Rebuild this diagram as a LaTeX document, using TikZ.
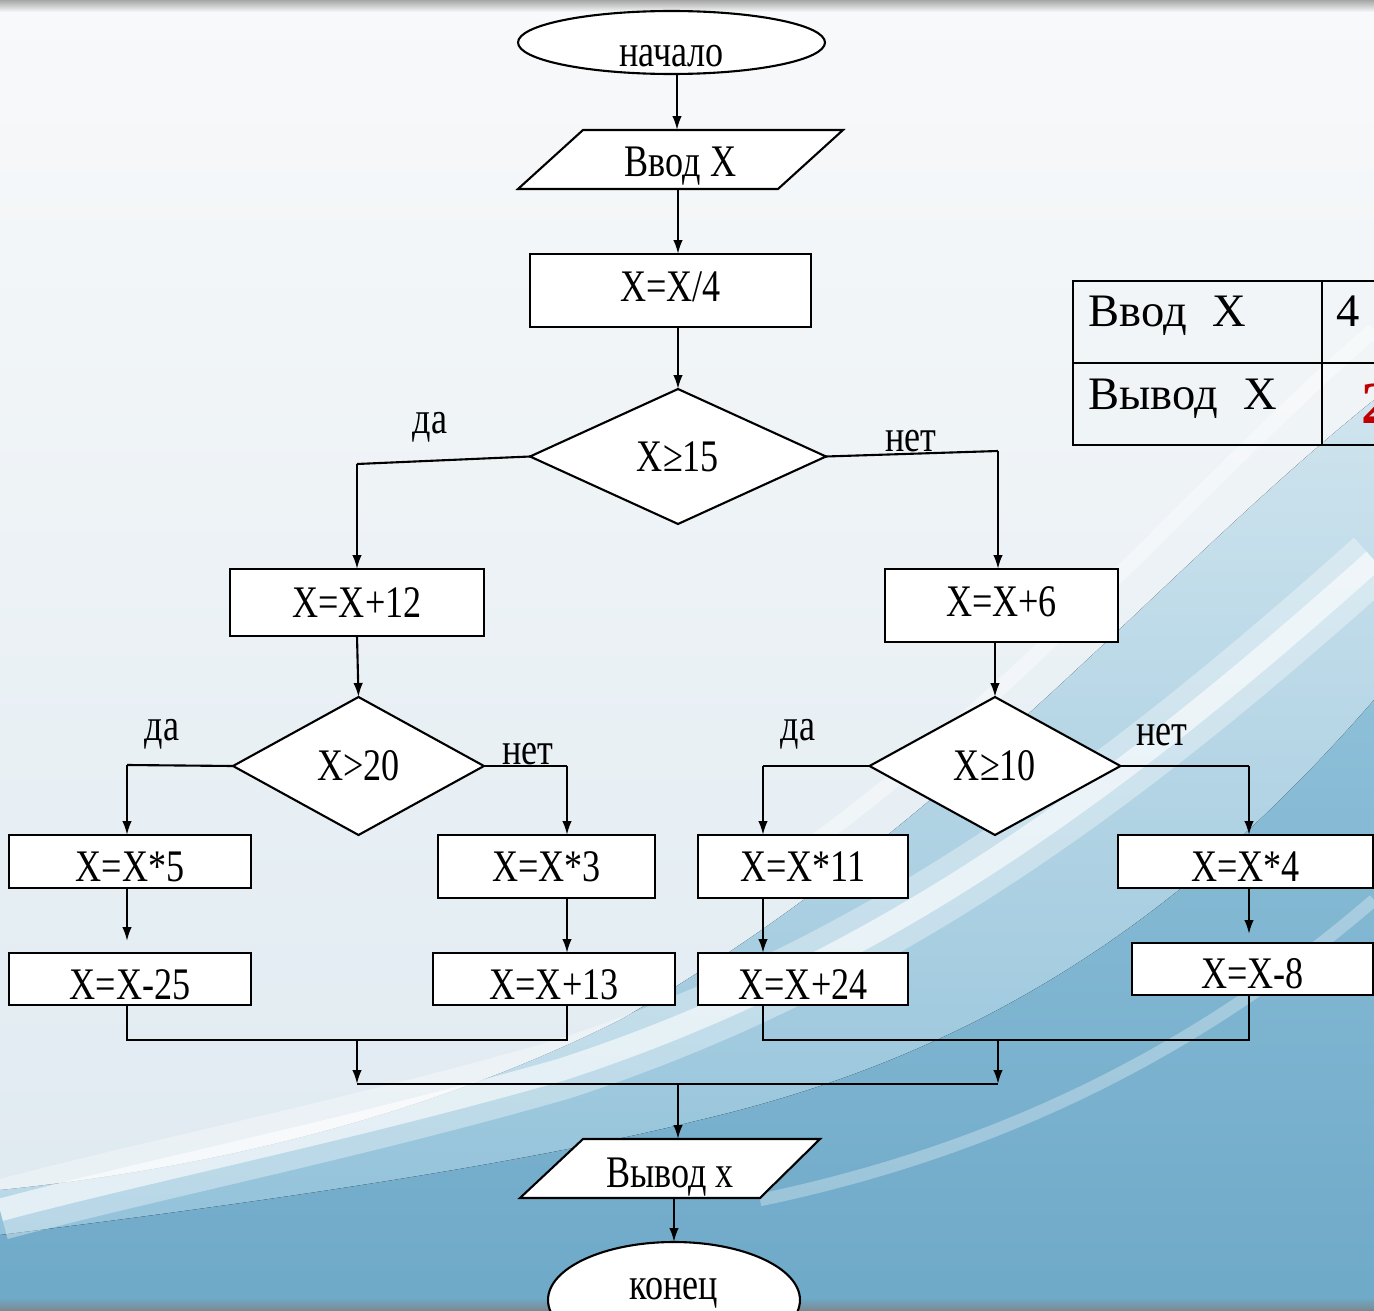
\documentclass[tikz,border=0pt]{standalone}
\usepackage{fontspec}
\setmainfont{Liberation Serif}
\newfontfamily\condfont{Liberation Serif}[FakeStretch=0.8]
\usetikzlibrary{shapes.geometric,arrows.meta,calc}
\definecolor{bgtop}{HTML}{F8F9FA}
\definecolor{bgbot}{HTML}{DDE9F0}
\definecolor{bluelight}{HTML}{AFD2E3}
\definecolor{bluemid}{HTML}{8DBFD8}
\definecolor{bluedeep}{HTML}{6EA9C8}
\definecolor{redtxt}{HTML}{C00000}
\begin{document}
\begin{tikzpicture}[x=0.02cm,y=-0.02cm,
  fc/.style={font=\condfont\fontsize{25.7}{30}\selectfont},
  box/.style={fc,draw,fill=white,line width=1.2pt,inner sep=0pt,outer sep=0pt,
              text height=0.6cm,text depth=0cm},
  tlow/.style={text height=0.8cm,text depth=0cm},
  tlower/.style={text height=0.84cm,text depth=0cm},
  thigh/.style={text height=0.46cm,text depth=0cm},
  tmid/.style={text height=0.7cm,text depth=0cm},
  dec/.style={fc,draw,fill=white,diamond,line width=1.2pt,inner sep=0pt,outer sep=0pt,
              text height=0.6cm,text depth=0cm},
  term/.style={draw,fill=white,ellipse,line width=1.2pt,inner sep=0pt,outer sep=0pt},
  io/.style={fc,inner sep=0pt,outer sep=0pt,text depth=0cm},
  para/.style={draw,fill=white,line width=1.2pt,line join=miter},
  lbl/.style={fc,inner sep=0pt},
  link/.style={line width=1.2pt},
  arr/.style={line width=1.2pt,-{Latex[length=0.28cm,width=0.19cm]}},
  cell/.style={draw,line width=1.6pt,inner sep=0pt,outer sep=0pt},
  tbl/.style={font=\fontsize{26.5}{30}\selectfont,inner sep=0pt,anchor=base west}
]
\useasboundingbox (0,0) rectangle (1374,1311);
\clip (0,0) rectangle (1374,1311);

% ---------- background ----------
\fill[top color=bgtop, bottom color=bgbot] (0,0) rectangle (1374,1311);
\fill[top color=bluelight!60!white, bottom color=bluemid]
  (1374,400) .. controls (1150,580) and (950,830) .. (620,1020)
  .. controls (420,1120) and (200,1170) .. (0,1190) -- (0,1311) -- (1374,1311) -- cycle;
\fill[top color=bluemid, bottom color=bluedeep]
  (1374,700) .. controls (1200,900) and (1000,1050) .. (700,1120)
  .. controls (500,1170) and (200,1210) .. (0,1235) -- (0,1311) -- (1374,1311) -- cycle;
\draw[white, opacity=0.35, line width=1.2cm]
  (1374,560) .. controls (1150,760) and (900,960) .. (560,1070)
  .. controls (350,1130) and (150,1170) .. (0,1210);
\draw[white, opacity=0.6, line width=0.45cm]
  (1374,560) .. controls (1150,760) and (900,960) .. (560,1070)
  .. controls (350,1130) and (150,1170) .. (0,1210);
\draw[white, opacity=0.4, line width=0.3cm]
  (1374,330) .. controls (1200,480) and (1000,720) .. (760,880);
\draw[white, opacity=0.3, line width=0.25cm]
  (1374,900) .. controls (1200,1050) and (1000,1150) .. (760,1200);
\fill[top color=gray!70, bottom color=bgtop] (0,0) rectangle (1374,12);
\fill[top color=bluedeep, bottom color=gray!80!bluedeep] (0,1298) rectangle (1374,1311);

% ---------- table ----------
\node[cell, minimum width=4.98cm, minimum height=1.64cm] (c11) at (1197.5,322) {};
\node[cell, minimum width=1.40cm, minimum height=1.64cm] (c12) at (1357,322) {};
\node[cell, minimum width=4.98cm, minimum height=1.64cm] (c21) at (1197.5,404) {};
\node[cell, minimum width=1.40cm, minimum height=1.64cm] (c22) at (1357,404) {};
\node[tbl] (t11) at (1088,327) {Ввод\hspace{0.55em}X};
\node[tbl] (t12) at (1336,327) {4};
\node[tbl] (t21) at (1088,410) {Вывод\hspace{0.55em}X};
\node[tbl, font=\fontsize{34}{38}\selectfont\bfseries, text=redtxt] (t22) at (1361,424) {2};

% ---------- flowchart ----------
\node[term, minimum width=6.14cm, minimum height=1.26cm,
      label={[fc,yshift=-0.27cm]center:начало}] (start) at (671.5,42.5) {};

\draw[para] (583,130) -- (843,130) -- (778,189) -- (518,189) -- cycle;
\node[io, text height=0.7cm, minimum width=5.2cm, minimum height=1.18cm] (in) at (680.5,159.5) {Ввод X};

\node[box, thigh, minimum width=5.62cm, minimum height=1.46cm] (b4) at (670.5,290.5) {X=X/4};
\node[dec, minimum width=5.92cm, minimum height=2.70cm] (d1) at (678,456.5) {X≥15};

\node[box, minimum width=5.08cm, minimum height=1.34cm] (b12) at (357,602.5) {X=X+12};
\node[box, thigh, minimum width=4.66cm, minimum height=1.46cm] (b6) at (1001.5,605.5) {X=X+6};

\node[dec, minimum width=5.02cm, minimum height=2.76cm] (d2) at (358.5,766) {X>20};
\node[dec, minimum width=5.02cm, minimum height=2.76cm] (d3) at (995,766) {X≥10};

\node[box, tlow, minimum width=4.84cm, minimum height=1.06cm] (b5) at (130,861.5) {X=X*5};
\node[box, minimum width=4.34cm, minimum height=1.26cm] (b3) at (546.5,866.5) {X=X*3};
\node[box, minimum width=4.20cm, minimum height=1.26cm] (b11) at (803,866.5) {X=X*11};
\node[box, tlow, minimum width=5.10cm, minimum height=1.06cm] (bx4) at (1245.5,861.5) {X=X*4};

\node[box, tlower, minimum width=4.84cm, minimum height=1.04cm] (b25) at (130,979) {X=X-25};
\node[box, tlower, minimum width=4.84cm, minimum height=1.04cm] (b13) at (554,979) {X=X+13};
\node[box, tlower, minimum width=4.20cm, minimum height=1.04cm] (b24) at (803,979) {X=X+24};
\node[box, tlow, minimum width=4.82cm, minimum height=1.04cm] (b8) at (1252.5,969) {X=X-8};

\draw[para] (583,1139) -- (820,1139) -- (760,1198) -- (520,1198) -- cycle;
\node[io, text height=0.74cm, minimum width=4.76cm, minimum height=1.18cm] (out) at (670,1168.5) {Вывод x};

\node[term, minimum width=5.04cm, minimum height=2.32cm,
      label={[fc,yshift=0.14cm]center:конец}] (end) at (674,1300) {};

% branch labels
\node[lbl] (y1) at (430,427) {да};
\node[lbl] (n1) at (911,441) {нет};
\node[lbl] (y2) at (162,734) {да};
\node[lbl] (n2) at (528,754) {нет};
\node[lbl] (y3) at (798,734) {да};
\node[lbl] (n3) at (1162,735) {нет};

% bend coordinates
\coordinate (a1) at (677,0);
\coordinate (a2) at (678,0);
\coordinate (k1l) at (357,464);
\coordinate (k1r) at (998,451);
\coordinate (k2l) at (127,765);
\coordinate (k2r) at (567,766);
\coordinate (k3l) at (763,766);
\coordinate (k3r) at (1249,766);
\coordinate (m1a) at (127,1040);
\coordinate (m1b) at (567,1040);
\coordinate (m2a) at (763,1040);
\coordinate (m2b) at (1249,1040);
\coordinate (j1) at (357,1040);
\coordinate (j2) at (998,1040);
\coordinate (j3) at (357,1084);
\coordinate (j4) at (998,1084);
\coordinate (j5) at (678,1084);

% connectors
\draw[arr] (start.south -| a1) -- (in.north -| a1);
\draw[arr] (in.south -| a2) -- (b4.north -| a2);
\draw[arr] (d1.north |- b4.south) -- (d1.north);
\draw[link] (d1.west) -- (k1l);
\draw[arr] (k1l) -- (b12.north);
\draw[link] (d1.east) -- (k1r);
\draw[arr] (k1r) -- (k1r |- b6.north);
\draw[arr] (b12.south) -- (d2.north);
\draw[arr] (d3.north |- b6.south) -- (d3.north);
\draw[link] (d2.west) -- (k2l);
\draw[arr] (k2l) -- (k2l |- b5.north);
\draw[link] (d2.east) -- (k2r);
\draw[arr] (k2r) -- (k2r |- b3.north);
\draw[link] (d3.west) -- (k3l);
\draw[arr] (k3l) -- (k3l |- b11.north);
\draw[link] (d3.east) -- (k3r);
\draw[arr] (k3r) -- (k3r |- bx4.north);
\draw[arr, shorten >=0.24cm] (k2l |- b5.south) -- (k2l |- b25.north);
\draw[arr] (k2r |- b3.south) -- (k2r |- b13.north);
\draw[arr] (k3l |- b11.south) -- (k3l |- b24.north);
\draw[arr, shorten >=0.18cm] (k3r |- bx4.south) -- (k3r |- b8.north);
\draw[link] (m1a |- b25.south) -- (m1a) -- (m1b) -- (m1b |- b13.south);
\draw[link] (m2a |- b24.south) -- (m2a) -- (m2b) -- (m2b |- b8.south);
\draw[arr] (j1) -- (j3);
\draw[arr] (j2) -- (j4);
\draw[link] (j3) -- (j4);
\draw[arr] (j5) -- (j5 |- out.north);
\draw[arr] (end.north |- out.south) -- (end.north);
\end{tikzpicture}
\end{document}
